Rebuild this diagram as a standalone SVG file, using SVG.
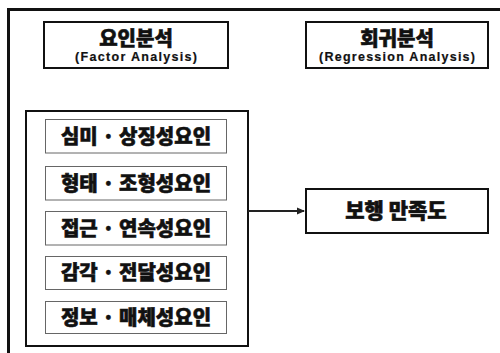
<svg xmlns="http://www.w3.org/2000/svg" width="500" height="353" viewBox="0 0 500 353">
<defs>
<style>
.frame{fill:none;stroke:#111;stroke-width:3}
.box{fill:#fff;stroke:#111;stroke-width:2}
.fbox{fill:#fff;stroke:#666;stroke-width:1}
.ko{font-family:"Noto Sans CJK KR","Noto Sans",sans-serif;font-weight:900;fill:#111;stroke:#111;stroke-width:0.6;text-anchor:middle}
.en{font-family:"Liberation Sans",Arial,sans-serif;font-weight:bold;fill:#111;stroke:#111;stroke-width:0.2;text-anchor:middle;font-size:12.5px}
.conn{stroke:#222;stroke-width:2;fill:none}
</style>
<marker id="arr" markerWidth="8" markerHeight="8" refX="7" refY="4" orient="auto" markerUnits="userSpaceOnUse">
<path d="M0,0.5 L8,4 L0,7.5 Z" fill="#222"/>
</marker>
</defs>
<rect x="0" y="0" width="500" height="353" fill="#fff"/>
<rect class="frame" x="8.5" y="9.5" width="520" height="400"/>
<g id="factor-analysis">
<rect class="box" x="44" y="22" width="184" height="46"/>
<text class="ko" x="136" y="46" font-size="20">요인분석</text>
<text class="en" x="136" y="61" textLength="122" lengthAdjust="spacing">(Factor Analysis)</text>
</g>
<g id="regression-analysis">
<rect class="box" x="306" y="22" width="182" height="46"/>
<text class="ko" x="397" y="46" font-size="20">회귀분석</text>
<text class="en" x="397" y="61" textLength="156" lengthAdjust="spacing">(Regression Analysis)</text>
</g>
<g id="factors">
<rect class="box" x="26" y="111" width="222" height="235"/>
</g>
<g id="f1">
<rect class="fbox" x="45.5" y="119.5" width="181" height="33.5"/>
<text class="ko" x="136" y="143.5" font-size="20">심미 · 상징성요인</text>
</g>
<g id="f2">
<rect class="fbox" x="45.5" y="166.5" width="181" height="33.5"/>
<text class="ko" x="136" y="190.5" font-size="20">형태 · 조형성요인</text>
</g>
<g id="f3">
<rect class="fbox" x="45.5" y="211.5" width="181" height="33.5"/>
<text class="ko" x="136" y="235.5" font-size="20">접근 · 연속성요인</text>
</g>
<g id="f4">
<rect class="fbox" x="45.5" y="256.5" width="181" height="33"/>
<text class="ko" x="136" y="280" font-size="20">감각 · 전달성요인</text>
</g>
<g id="f5">
<rect class="fbox" x="45.5" y="301.5" width="181" height="32"/>
<text class="ko" x="136" y="324.5" font-size="20">정보 · 매체성요인</text>
</g>
<g id="satisfaction">
<rect class="box" x="306" y="189" width="182" height="44"/>
<text class="ko" x="396" y="218" font-size="21">보행 만족도</text>
</g>
<g id="connectors">
<line class="conn" x1="248" y1="211" x2="304" y2="211" marker-end="url(#arr)"/>
</g>
</svg>
